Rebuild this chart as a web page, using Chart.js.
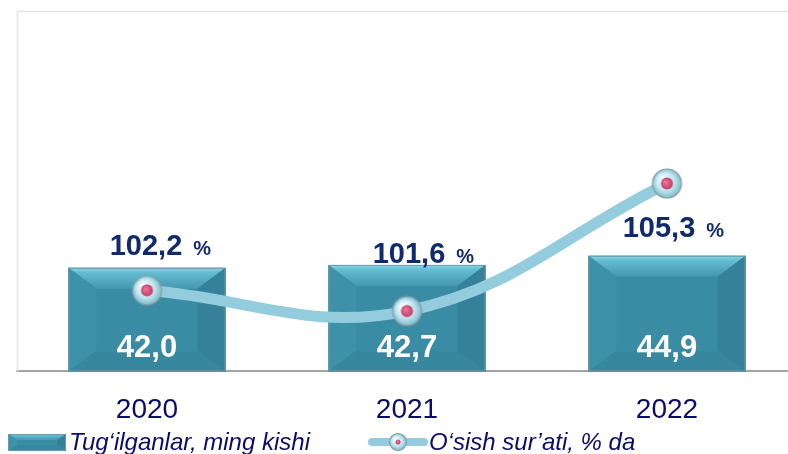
<!DOCTYPE html>
<html>
<head>
<meta charset="utf-8">
<script src="https://cdn.jsdelivr.net/npm/chart.js@4"></script>
<style>
  html, body { margin: 0; padding: 0; background: #fff; overflow: hidden; }
  #wrap { position: relative; width: 788px; height: 454px; overflow: hidden; }
  #chart { position: absolute; left: 0; top: 0; }
  .legend-item {
    position: absolute; top: 429px; height: 26px;
    display: flex; align-items: center; white-space: nowrap;
    font: italic 24px "Liberation Sans", Arial, sans-serif; color: #0b0b6b;
  }
  .legend-item span { margin-left: 3px; }
</style>
</head>
<body>
<div id="wrap">
  <canvas id="chart" width="800" height="454"></canvas>
  <div class="legend-item" id="leg-bar" style="left:8px"><canvas id="icon-bar" width="58" height="17"></canvas><span></span></div>
  <div class="legend-item" id="leg-line" style="left:367px"><canvas id="icon-line" width="62" height="20"></canvas><span style="margin-left:0"></span></div>
</div>
<script>
// Chart data
const years = ['2020', '2021', '2022'];
const births = [42.0, 42.7, 44.9];          // ming kishi
const growth = [102.2, 101.6, 105.3];       // % da
const seriesNames = ['Tug‘ilganlar, ming kishi', 'O‘sish sur’ati, % da'];

// Axis ranges (both value axes are hidden)
const BAR_MIN = 17, BAR_MAX = 104;
const RATE_MIN = 99.85, RATE_MAX = 110.3;

// Label nudges for the growth labels (relative to bar top)
const growthLabelDx = [-1, 2, -8];
const growthLabelDy = [-23, -12, -29];

const BAR_INDEX = 1;
const FONT = '"Liberation Sans", Arial, sans-serif';
Chart.defaults.font.family = FONT;

// Format number with comma decimal
function fmt(v) {
  return v.toFixed(1).replace('.', ',');
}

// Bevelled bar (face + 4 trapezoids)
function drawBevel(g, l, t, r, b, dx, dy) {
  const quad = (pts, fill) => {
    g.beginPath();
    g.moveTo(pts[0][0], pts[0][1]);
    pts.slice(1).forEach(p => g.lineTo(p[0], p[1]));
    g.closePath();
    g.fillStyle = fill;
    g.fill();
  };
  g.fillStyle = '#3a8ca5';
  g.fillRect(l, t, r - l, b - t);
  const top = g.createLinearGradient(0, t, 0, t + dy);
  top.addColorStop(0, '#8adcee');
  top.addColorStop(0.2, '#64bed4');
  top.addColorStop(1, '#4497af');
  quad([[l, t], [r, t], [r - dx, t + dy], [l + dx, t + dy]], top);
  quad([[l, t], [l + dx, t + dy], [l + dx, b - dy], [l, b]], '#3d91a9');
  quad([[r, t], [r, b], [r - dx, b - dy], [r - dx, t + dy]], '#348199');
  quad([[l, b], [l + dx, b - dy], [r - dx, b - dy], [r, b]], '#37879f');
  g.strokeStyle = '#6d98a5';
  g.lineWidth = 1;
  g.strokeRect(l + 0.5, t + 0.5, r - l - 1, b - t - 1);
}

// Glassy marker with pink centre
function drawMarker(g, m, r, dotR) {
  const grad = g.createRadialGradient(m - r * 0.3, m - r * 0.35, r * 0.1, m, m, r);
  grad.addColorStop(0, '#f6fdff');
  grad.addColorStop(0.6, '#bfe6f0');
  grad.addColorStop(1, '#7fbccc');
  g.beginPath();
  g.arc(m, m, r, 0, Math.PI * 2);
  g.fillStyle = grad;
  g.fill();
  g.lineWidth = 1.2;
  g.strokeStyle = '#8a9ca3';
  g.stroke();
  const dg = g.createRadialGradient(m - dotR * 0.3, m - dotR * 0.3, 0, m, m, dotR);
  dg.addColorStop(0, '#ea7fa0');
  dg.addColorStop(1, '#c93a67');
  g.beginPath();
  g.arc(m, m, dotR, 0, Math.PI * 2);
  g.fillStyle = dg;
  g.fill();
}

function makeMarker(r, dotR) {
  const size = Math.ceil(r * 2 + 4);
  const c = document.createElement('canvas');
  c.width = c.height = size;
  drawMarker(c.getContext('2d'), size / 2, r, dotR);
  return c;
}

// Legend icons
function initLegend() {
  const gb = document.getElementById('icon-bar').getContext('2d');
  drawBevel(gb, 0, 0, 58, 17, 9, 6);

  const lc = document.getElementById('icon-line');
  const gl = lc.getContext('2d');
  gl.strokeStyle = '#93cddd';
  gl.lineWidth = 8;
  gl.lineCap = 'round';
  gl.beginPath();
  gl.moveTo(5, 10);
  gl.lineTo(57, 10);
  gl.stroke();
  gl.save();
  gl.translate(21, 0);
  drawMarker(gl, 10, 8.5, 2.5);
  gl.restore();

  document.querySelector('#leg-bar span').textContent = seriesNames[0];
  document.querySelector('#leg-line span').textContent = seriesNames[1];
}

// Plot frame (light gray top / left)
const framePlugin = {
  id: 'frame',
  beforeDatasetsDraw(chart) {
    const { ctx, chartArea } = chart;
    ctx.save();
    ctx.strokeStyle = '#e4e4e4';
    ctx.lineWidth = 1.5;
    ctx.beginPath();
    ctx.moveTo(chartArea.left + 0.5, chartArea.bottom);
    ctx.lineTo(chartArea.left + 0.5, chartArea.top + 0.5);
    ctx.lineTo(chart.width, chartArea.top + 0.5);
    ctx.stroke();
    ctx.restore();
  }
};

// Bevel the bars right after the bar dataset is drawn
const bevelPlugin = {
  id: 'bevel',
  afterDatasetDraw(chart, args) {
    if (args.index !== BAR_INDEX) return;
    const ctx = chart.ctx;
    ctx.save();
    args.meta.data.forEach(bar => {
      const p = bar.getProps(['x', 'y', 'base', 'width'], true);
      const bottom = Math.min(p.base, chart.chartArea.bottom);
      drawBevel(ctx, p.x - p.width / 2, p.y, p.x + p.width / 2, bottom, 28, 21);
    });
    ctx.restore();
  }
};

// Value labels
const labelPlugin = {
  id: 'valueLabels',
  afterDatasetsDraw(chart) {
    const ctx = chart.ctx;
    const bars = chart.getDatasetMeta(BAR_INDEX).data;
    const bottom = chart.chartArea.bottom;
    ctx.save();
    ctx.textBaseline = 'alphabetic';
    bars.forEach((bar, i) => {
      const p = bar.getProps(['x', 'y'], true);
      // births inside bar
      ctx.textAlign = 'center';
      ctx.font = 'bold 31px ' + FONT;
      ctx.fillStyle = '#ffffff';
      ctx.fillText(fmt(births[i]), p.x, bottom - 25 + 11);
      // growth above bar
      const cx = p.x + growthLabelDx[i];
      const cy = p.y + growthLabelDy[i];
      const txt = fmt(growth[i]);
      ctx.font = 'bold 29px ' + FONT;
      ctx.fillStyle = '#112a6c';
      const w = ctx.measureText(txt).width;
      ctx.fillText(txt, cx, cy + 10);
      ctx.textAlign = 'left';
      ctx.font = 'bold 20px ' + FONT;
      ctx.fillText('%', cx + w / 2 + 11, cy + 10);
    });
    ctx.restore();
  }
};

const pointMarker = makeMarker(14.5, 6);

function initChart() {
  const ctx = document.getElementById('chart');
  new Chart(ctx, {
    data: {
      labels: years,
      datasets: [
        {
          type: 'line',
          label: seriesNames[1],
          data: growth,
          yAxisID: 'y1',
          order: 1,
          borderColor: '#93cddd',
          borderWidth: 11,
          tension: 0.4,
          fill: false,
          pointStyle: pointMarker,
          pointRadius: 15,
          pointHoverRadius: 15
        },
        {
          type: 'bar',
          label: seriesNames[0],
          data: births,
          yAxisID: 'y',
          order: 2,
          base: BAR_MIN,
          backgroundColor: '#3a8ca5',
          barPercentage: 1,
          categoryPercentage: 0.604
        }
      ]
    },
    options: {
      responsive: false,
      animation: false,
      devicePixelRatio: 1,
      layout: {
        autoPadding: false,
        padding: { top: 11, left: 17, right: 3, bottom: 5 }
      },
      scales: {
        x: {
          grid: { display: false, drawTicks: false },
          border: { display: true, color: '#a3a3a3', width: 2 },
          ticks: {
            color: '#0b0b6b',
            font: { size: 28 },
            padding: 22
          }
        },
        y: {
          display: false,
          min: BAR_MIN,
          max: BAR_MAX
        },
        y1: {
          display: false,
          min: RATE_MIN,
          max: RATE_MAX
        }
      },
      plugins: {
        legend: { display: false },
        tooltip: { enabled: false }
      }
    },
    plugins: [framePlugin, bevelPlugin, labelPlugin]
  });
}

document.addEventListener('DOMContentLoaded', () => {
  initLegend();
  initChart();
});
</script>
</body>
</html>
